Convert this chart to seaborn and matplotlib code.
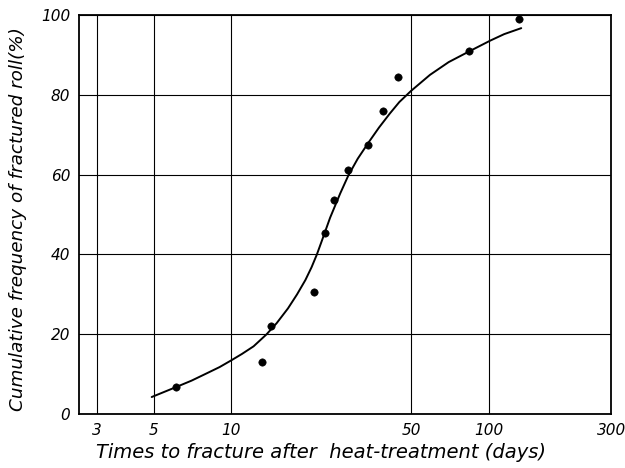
import numpy as np
import pandas as pd
import matplotlib
matplotlib.use('Agg')
import matplotlib.pyplot as plt
import seaborn as sns
from matplotlib.ticker import FixedLocator, NullLocator

sns.set_style("white")
plt.rcParams['font.family'] = ['DejaVu Sans']
plt.rcParams['font.style'] = 'italic'
plt.rcParams['text.color'] = 'black'
plt.rcParams['axes.labelcolor'] = 'black'
plt.rcParams['xtick.color'] = 'black'
plt.rcParams['ytick.color'] = 'black'

# measured points (days, cumulative %)
days = [6.1, 13.2, 14.3, 21.0, 23.1, 25.1, 28.5, 34.0, 38.7, 44.6, 84.1, 130.8]
freq = [6.8, 13.1, 22.1, 30.7, 45.4, 53.6, 61.2, 67.5, 75.9, 84.5, 91.1, 99.0]

# hand-drawn fitted curve
curve_days = [4.9, 6.1, 7.0, 8.0, 9.0, 10.0, 11.0, 12.2, 13.7, 15.0, 16.6, 18.0,
              19.4, 20.5, 21.5, 22.5, 24.2, 26.5, 28.5, 31.0, 34.1, 37.5, 41.3,
              45.0, 50.0, 59.2, 70.0, 84.8, 101.7, 115.0, 134.0]
curve_freq = [4.3, 6.8, 8.4, 10.2, 11.8, 13.5, 15.1, 17.0, 20.0, 22.8, 26.5, 30.0,
              33.6, 36.8, 40.0, 43.5, 49.2, 55.3, 59.8, 64.0, 68.0, 71.8, 75.3,
              78.2, 81.0, 85.0, 88.2, 91.0, 93.6, 95.2, 96.7]

x_ticks = [3, 5, 10, 50, 100, 300]
y_ticks = [0, 20, 40, 60, 80, 100]

pts = pd.DataFrame({'days': days, 'freq': freq})
crv = pd.DataFrame({'days': curve_days, 'freq': curve_freq})

fig, ax = plt.subplots(figsize=(6.25, 4.68), dpi=100)
fig.subplots_adjust(left=0.126, right=0.978, top=0.968, bottom=0.115)

ax.set_xscale('log')
sns.lineplot(data=crv, x='days', y='freq', color='black', linewidth=1.4,
             sort=False, ax=ax, zorder=3)
sns.scatterplot(data=pts, x='days', y='freq', color='black', s=28,
                edgecolor='black', ax=ax, zorder=4)

ax.set_xlim(2.55, 300)
ax.set_ylim(0, 100)
ax.xaxis.set_major_locator(FixedLocator(x_ticks))
ax.xaxis.set_minor_locator(NullLocator())
ax.set_xticklabels([str(t) for t in x_ticks])
ax.set_yticks(y_ticks)
ax.grid(True, which='major', color='black', linewidth=0.8)
ax.tick_params(axis='both', length=0, labelsize=11, pad=6, labelcolor='black')
for lab in ax.get_xticklabels() + ax.get_yticklabels():
    lab.set_fontstyle('italic')
for sp in ax.spines.values():
    sp.set_color('black')
    sp.set_linewidth(1.3)

ax.set_xlabel('Times to fracture after  heat-treatment (days)', fontsize=14,
              fontstyle='italic', color='black')
ax.xaxis.set_label_coords(0.455, -0.073)
ax.set_ylabel('Cumulative frequency of fractured roll(%)', fontsize=13.2,
              fontstyle='italic', color='black')
ax.yaxis.set_label_coords(-0.097, 0.49)

fig.savefig('out.png', dpi=100)
